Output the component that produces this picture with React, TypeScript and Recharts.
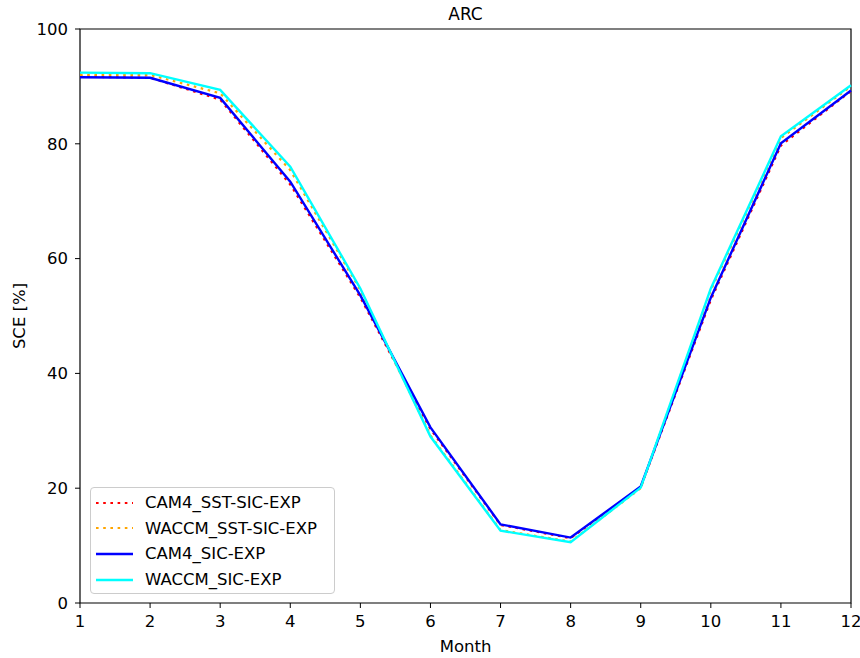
import React from "react";
import { LineChart, Line, XAxis, YAxis, ReferenceArea } from "recharts";

const months = [1, 2, 3, 4, 5, 6, 7, 8, 9, 10, 11, 12];
const cam4SstSic = [91.7, 91.5, 87.7, 72.9, 53.2, 30.3, 13.6, 11.3, 20.2, 52.8, 79.7, 89.2];
const waccmSstSic = [92.0, 92.0, 88.8, 75.4, 54.5, 29.2, 12.7, 10.7, 20.0, 54.5, 81.0, 90.0];
const cam4Sic = [91.6, 91.5, 88.0, 73.4, 53.6, 30.6, 13.7, 11.4, 20.3, 53.2, 80.1, 89.3];
const waccmSic = [92.4, 92.3, 89.4, 76.0, 54.8, 29.0, 12.6, 10.6, 20.1, 54.8, 81.3, 90.2];
const yTicks = [0, 20, 40, 60, 80, 100];

const series = [
  { key: "cam4SstSic", name: "CAM4_SST-SIC-EXP", color: "#ff0000", dash: "2.6 4.6", width: 2.2 },
  { key: "waccmSstSic", name: "WACCM_SST-SIC-EXP", color: "#ffa500", dash: "2.6 4.6", width: 2.2 },
  { key: "cam4Sic", name: "CAM4_SIC-EXP", color: "#0000ff", dash: undefined, width: 2.4 },
  { key: "waccmSic", name: "WACCM_SIC-EXP", color: "#00ffff", dash: undefined, width: 2.4 },
];

const data = months.map((m, i) => ({
  month: m,
  cam4SstSic: cam4SstSic[i],
  waccmSstSic: waccmSstSic[i],
  cam4Sic: cam4Sic[i],
  waccmSic: waccmSic[i],
}));

const FONT = "DejaVu Sans";
const FS = 16.5;

const LegendBox = () => (
  <div
    style={{
      position: "absolute",
      left: 90,
      top: 487,
      width: 245,
      height: 107,
      border: "1.3px solid #cccccc",
      borderRadius: 4,
      background: "rgba(255,255,255,0.8)",
      boxSizing: "border-box",
      fontFamily: FONT,
      fontSize: FS,
    }}
  >
    {series.map((s, i) => (
      <div
        key={s.key}
        style={{ position: "absolute", left: 0, top: 2 + i * 25.7, height: 25, display: "flex", alignItems: "center" }}
      >
        <svg width={50} height={10} style={{ display: "block" }}>
          <line x1={5} y1={5} x2={42} y2={5} stroke={s.color} strokeWidth={s.width} strokeDasharray={s.dash} />
        </svg>
        <span style={{ marginLeft: 4, color: "#000", whiteSpace: "nowrap" }}>{s.name}</span>
      </div>
    ))}
  </div>
);

export default function App() {
  return (
    <div style={{ position: "absolute", left: 0, top: 0, width: 860, height: 658, background: "#fff" }}>
      <LineChart width={860} height={658} data={data} margin={{ top: 29, right: 9, left: 0, bottom: 0 }}>
        <XAxis
          dataKey="month"
          type="number"
          domain={[1, 12]}
          ticks={months}
          height={55}
          stroke="#000"
          tickSize={5}
          tickMargin={7}
          tick={{ fill: "#000", fontFamily: FONT, fontSize: FS }}
          axisLine={false}
          tickLine={{ stroke: "#000" }}
          label={({ viewBox }: any) => (
            <g>
              <text x={viewBox.x + viewBox.width / 2} y={652} textAnchor="middle" fontFamily={FONT} fontSize={FS} fill="#000">
                Month
              </text>
              <text x={viewBox.x + viewBox.width / 2} y={20} textAnchor="middle" fontFamily={FONT} fontSize={17} fill="#000">
                ARC
              </text>
            </g>
          )}
        />
        <YAxis
          type="number"
          domain={[0, 100]}
          ticks={yTicks}
          width={80}
          tickSize={5}
          tickMargin={7}
          tick={{ fill: "#000", fontFamily: FONT, fontSize: FS }}
          axisLine={false}
          tickLine={{ stroke: "#000" }}
          label={({ viewBox }: any) => {
            const cx = 25;
            const cy = viewBox.y + viewBox.height / 2;
            return (
              <text x={cx} y={cy} transform={`rotate(-90 ${cx} ${cy})`} textAnchor="middle" fontFamily={FONT} fontSize={FS} fill="#000">
                SCE [%]
              </text>
            );
          }}
        />
        {series.map((s) => (
          <Line
            key={s.key}
            dataKey={s.key}
            name={s.name}
            stroke={s.color}
            strokeWidth={s.width}
            strokeDasharray={s.dash}
            dot={false}
            activeDot={false}
            isAnimationActive={false}
            type="linear"
          />
        ))}
        <ReferenceArea x1={1} x2={12} y1={0} y2={100} fill="none" fillOpacity={0} stroke="#000" strokeWidth={1.2} ifOverflow="visible" />
      </LineChart>
      <LegendBox />
    </div>
  );
}
